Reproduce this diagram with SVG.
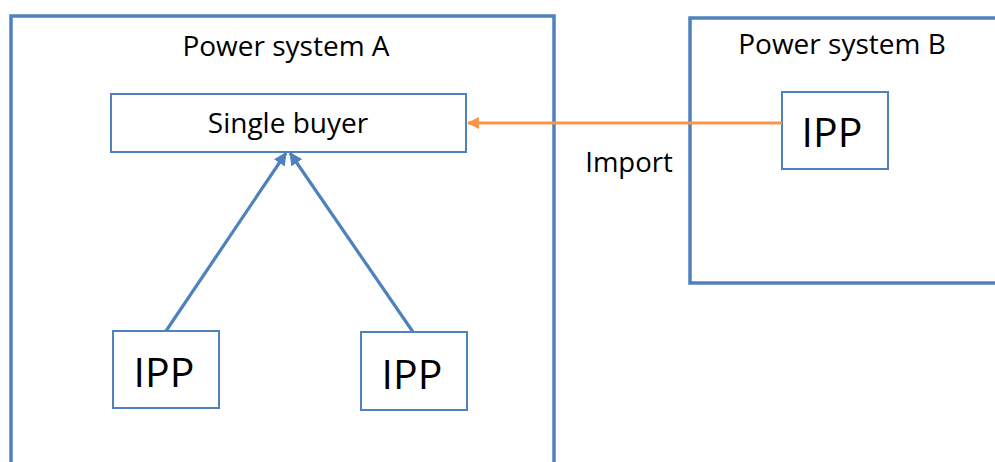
<svg xmlns="http://www.w3.org/2000/svg" width="995" height="462" viewBox="0 0 995 462">
<defs>
<style>
.outer{fill:none;stroke:#4F81BD;stroke-width:3.5}
.box{fill:#fff;stroke:#4F81BD;stroke-width:2}
.t{font-family:"Open Sans","Liberation Sans",sans-serif;fill:#000;text-anchor:middle}
.blue{stroke:#4F81BD;stroke-width:3.2;fill:none}
.orange{stroke:#F79646;stroke-width:3.2;fill:none}
</style>
<marker id="ab" viewBox="0 0 12 12" refX="11" refY="6" markerWidth="13" markerHeight="13" markerUnits="userSpaceOnUse" orient="auto">
<path d="M0,0 L12,6 L0,12 z" fill="#4F81BD"/>
</marker>
<marker id="ao" viewBox="0 0 12 12" refX="11" refY="6" markerWidth="13" markerHeight="12" markerUnits="userSpaceOnUse" orient="auto">
<path d="M0,0 L12,6 L0,12 z" fill="#F79646"/>
</marker>
</defs>
<rect width="995" height="462" fill="#fff"/>
<g id="systemA">
<rect class="outer" x="11" y="16" width="543" height="470"/>
<text class="t" x="286" y="56" font-size="28">Power system A</text>
</g>
<g id="systemB">
<rect class="outer" x="690" y="18" width="330" height="265"/>
<text class="t" x="842" y="54" font-size="28">Power system B</text>
</g>
<g id="singleBuyer">
<rect class="box" x="111" y="94" width="355" height="58"/>
<text class="t" x="288" y="133" font-size="28">Single buyer</text>
</g>
<g id="ippB">
<rect class="box" x="782" y="92" width="106" height="77"/>
<text class="t" x="832" y="147" font-size="41">IPP</text>
</g>
<g id="ippLeft">
<rect class="box" x="113" y="331" width="106" height="77"/>
<text class="t" x="164" y="387" font-size="41">IPP</text>
</g>
<g id="ippRight">
<rect class="box" x="361" y="332" width="106" height="78"/>
<text class="t" x="412" y="389" font-size="41">IPP</text>
</g>
<g id="connectors">
<line class="blue" x1="166" y1="331" x2="286" y2="153" marker-end="url(#ab)"/>
<line class="blue" x1="413" y1="332" x2="290" y2="153" marker-end="url(#ab)"/>
<line class="orange" x1="782" y1="123" x2="468" y2="123" marker-end="url(#ao)"/>
<text class="t" x="629" y="172" font-size="27.5">Import</text>
</g>
</svg>
